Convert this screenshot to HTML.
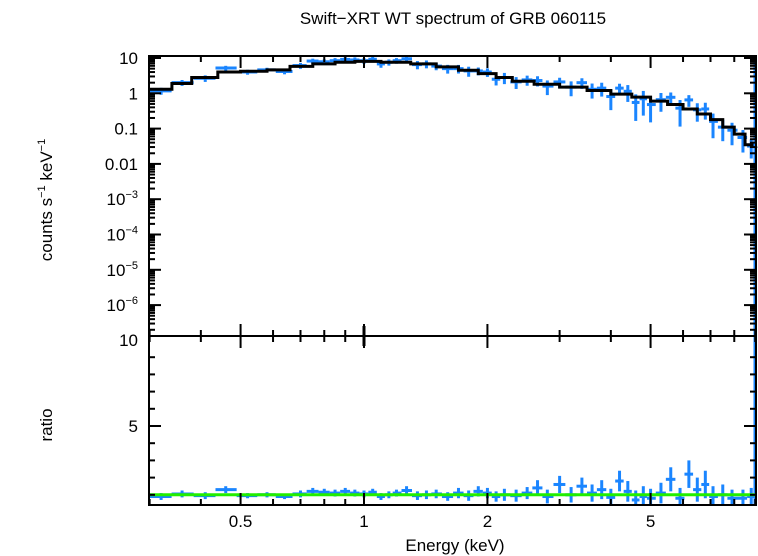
<!DOCTYPE html>
<html><head><meta charset="utf-8"><style>
html,body{margin:0;padding:0;background:#fff;}
svg{display:block;font-family:"Liberation Sans",sans-serif;}
</style></head><body>
<svg id="chart" width="758" height="556" xmlns="http://www.w3.org/2000/svg">
<text x="453" y="24" font-size="17" text-anchor="middle">Swift−XRT WT spectrum of GRB 060115</text>
<g id="plots"></g>
<text transform="translate(52,200) rotate(-90)" font-size="17" text-anchor="middle">counts s<tspan font-size="11" dy="-7">−1</tspan><tspan dy="7"> keV</tspan><tspan font-size="11" dy="-7">−1</tspan></text>
<text transform="translate(52,425) rotate(-90)" font-size="17" text-anchor="middle">ratio</text>
<text x="455" y="551" font-size="17" text-anchor="middle">Energy (keV)</text>
</svg>
<script>
const energies=[0.32,0.36,0.41,0.46,0.52,0.58,0.64,0.70,0.75,0.80,0.85,0.90,0.95,1.0,1.05,1.1,1.15,1.2,1.27,1.35,1.42,1.5,1.6,1.7,1.8,1.9,2.0,2.1,2.2,2.35,2.5,2.65,2.8,3.0,3.2,3.4,3.6,3.8,4.0,4.2,4.4,4.6,4.8,5.0,5.3,5.6,5.9,6.2,6.5,6.8,7.1,7.5,7.9,8.4,8.8];
const counts=[1.17,2.0,2.66,5.2,4.0,4.6,4.14,6.1,8.2,7.8,8.4,9.1,8.8,8.4,9.2,6.8,7.6,8.4,9.5,6.5,6.8,5.9,5.0,5.0,4.3,4.3,4.0,2.5,2.8,2.1,2.4,2.3,1.6,2.1,1.5,2.0,1.3,1.4,0.81,1.4,1.14,0.55,0.70,0.48,0.66,0.77,0.38,0.65,0.34,0.36,0.16,0.11,0.09,0.056,0.032];
const ratios=[0.9,1.05,0.95,1.3,0.95,1.0,0.9,1.05,1.2,1.15,1.1,1.2,1.1,1.05,1.15,0.9,1.0,1.1,1.25,0.95,1.0,1.05,0.9,1.1,0.95,1.2,1.1,0.9,1.0,0.95,1.1,1.4,0.9,1.6,1.0,1.5,1.1,1.3,0.85,1.8,1.2,0.7,0.9,0.8,1.1,1.9,0.8,2.2,1.3,1.6,0.9,1.0,0.8,0.8,0.9];
const ratioErrors=[0.2,0.2,0.2,0.2,0.15,0.15,0.15,0.2,0.2,0.2,0.2,0.2,0.2,0.2,0.2,0.2,0.2,0.2,0.25,0.25,0.25,0.25,0.25,0.3,0.3,0.3,0.3,0.3,0.35,0.35,0.35,0.45,0.4,0.5,0.45,0.5,0.5,0.55,0.5,0.6,0.6,0.55,0.6,0.55,0.6,0.7,0.6,0.8,0.7,0.8,0.6,0.6,0.5,0.5,0.5];
const modelEdges=[0.3,0.34,0.38,0.44,0.5,0.58,0.66,0.75,0.85,0.95,1.1,1.3,1.5,1.7,1.9,2.1,2.3,2.6,3.0,3.5,4.0,4.5,5.0,5.5,6.0,6.5,7.0,7.5,8.0,8.5,9.0];
const modelValues=[1.3,1.9,2.8,4.0,4.2,4.6,5.8,6.8,7.6,8.0,7.6,6.8,5.6,4.5,3.6,2.8,2.2,1.8,1.5,1.2,0.95,0.78,0.6,0.48,0.36,0.26,0.18,0.11,0.07,0.035];
const xTicks=[0.5,1,2,5];
const yTopTicks=[10,1,0.1,0.01,1e-3,1e-4,1e-5,1e-6];
const yTopLabels=["10","1","0.1","0.01","10|−3","10|−4","10|−5","10|−6"];
const yRatioTicks=[5,10];

const L=149,R=756,T=56,M=336,B=505;
const X=e=>364+410*Math.log10(e);
const YT=v=>58-35.3*(Math.log10(v)-1);
const YR=r=>512-17.2*r;
const NS="http://www.w3.org/2000/svg";
const g=document.getElementById('plots');
function el(tag,attrs){const e=document.createElementNS(NS,tag);for(const k in attrs)e.setAttribute(k,attrs[k]);g.appendChild(e);return e;}
function line(x1,y1,x2,y2,c,w){return el('line',{x1,y1,x2,y2,stroke:c,'stroke-width':w});}
const BLUE="#1a85ff";

function binLo(i){return i===0?0.3:Math.sqrt(energies[i-1]*energies[i]);}
function binHi(i){return i===energies.length-1?9.05:Math.sqrt(energies[i]*energies[i+1]);}

for(let i=0;i<energies.length;i++){
  const x=X(energies[i]),y=YT(counts[i]);
  const relErr=Math.min(ratioErrors[i]/ratios[i],0.7);
  let l=line(X(binLo(i)),y,X(binHi(i)),y,BLUE,3);
  
  
  let v=line(x,YT(counts[i]*(1+relErr)),x,YT(counts[i]*(1-relErr)),BLUE,3);
  
  
}
let d="";
for(let i=0;i<modelValues.length;i++){
  const x1=X(modelEdges[i]),x2=X(modelEdges[i+1]),y=YT(modelValues[i]);
  d+=(i===0?"M":"L")+x1+","+y+"L"+x2+","+y;
}
d+="L"+R+","+YT(modelValues[modelValues.length-1]*0.8);
const mp=el('path',{d,fill:'none',stroke:'#000','stroke-width':3});



for(let i=0;i<energies.length;i++){
  const x=X(energies[i]),y=YR(ratios[i]);
  let l=line(X(binLo(i)),y,X(binHi(i)),y,BLUE,3);
  
  
  let v=line(x,YR(ratios[i]+ratioErrors[i]),x,Math.min(YR(ratios[i]-ratioErrors[i]),B),BLUE,3);
  
  
}
const eb=line(R-1,T,R-1,B,BLUE,3);


const gl=line(L,YR(1),R,YR(1),'#22ee00',3);



const f1=el('rect',{x:L,y:T,width:R-L,height:M-T,fill:'none',stroke:'#000','stroke-width':2});


const f2=el('rect',{x:L,y:M,width:R-L,height:B-M,fill:'none',stroke:'#000','stroke-width':2});



for(let dec=0.1;dec<=10;dec*=10){
  for(let k=1;k<10;k++){
    const e=k*dec; if(e<0.3||e>9.05)continue;
    const x=X(e); const major=xTicks.includes(+e.toFixed(3));
    const len=major?12:6;
    line(x,T,x,T+len,'#000',2);line(x,M,x,M-len,'#000',2);
    line(x,M,x,M+len,'#000',2);line(x,B,x,B-len,'#000',2);
  }
}
line(X(1),M-10,X(1),M+10,'#000',3);
xTicks.forEach(t=>{
  const tx=el('text',{x:X(t),y:527,'font-size':17,'text-anchor':'middle'});
  tx.textContent=t;
  
  
});
for(let p=-7;p<=1;p++){
  for(let k=1;k<10;k++){
    const v=k*Math.pow(10,p);const y=YT(v);if(y<T||y>M)continue;
    const len=k===1?12:6;
    line(L,y,L+len,y,'#000',2);line(R,y,R-len,y,'#000',2);
  }
}
yTopTicks.forEach((t,i)=>{
  const y=YT(t)+6;
  const tx=el('text',{x:138,y,'font-size':17,'text-anchor':'end'});
  const parts=yTopLabels[i].split('|');
  if(parts.length===1)tx.textContent=parts[0];
  else{tx.textContent=parts[0];const ts=document.createElementNS(NS,'tspan');ts.setAttribute('font-size','11');ts.setAttribute('dy','-7');ts.textContent=parts[1];tx.appendChild(ts);}
  
  
});
for(let r=1;r<=9;r++){const y=YR(r);const len=(r%5===0)?12:6;line(L,y,L+len,y,'#000',2);line(R,y,R-len,y,'#000',2);}
yRatioTicks.forEach(t=>{
  const tx=el('text',{x:138,y:YR(t)+6,'font-size':17,'text-anchor':'end'});
  tx.textContent=t;
  
  
});
</script>
</body></html>
